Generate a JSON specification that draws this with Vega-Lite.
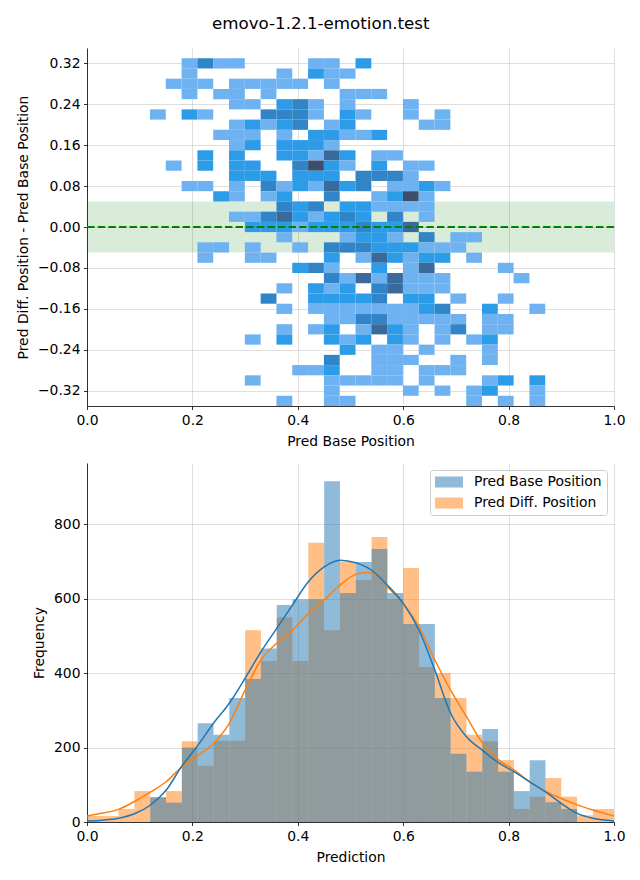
{
  "$schema": "https://vega.github.io/schema/vega-lite/v6.json",
  "background": "white",
  "padding": {"left": 16, "top": 16, "right": 5, "bottom": 5},
  "spacing": 14,
  "resolve": {"scale": {"fill": "independent", "color": "independent", "stroke": "independent"}, "legend": {"fill": "independent", "color": "independent"}},
  "title": {"text": "emovo-1.2.1-emotion.test", "font": "DejaVu Sans", "fontSize": 16.7, "fontWeight": "normal", "color": "black", "anchor": "middle", "offset": 15},
  "config": {
    "font": "DejaVu Sans",
    "view": {"stroke": null},
    "axis": {"zindex": 1, "grid": true, "gridColor": "#b0b0b0", "gridOpacity": 0.5, "gridWidth": 0.8, "domainColor": "black", "domainWidth": 0.8, "tickColor": "black", "tickWidth": 0.8, "tickSize": 3.5, "labelPadding": 3.5, "labelFont": "DejaVu Sans", "labelFontSize": 13.9, "labelColor": "black", "labelFlush": false, "labelOverlap": false, "titleFont": "DejaVu Sans", "titleFontSize": 13.9, "titleFontWeight": "normal", "titleColor": "black", "titlePadding": 8},
    "axisY": {"titlePadding": 7}
  },
  "datasets": {
    "cells": [
      {"x":0.1945,"y":0.32,"n":1},{"x":0.2245,"y":0.32,"n":3},{"x":0.2545,"y":0.32,"n":1},{"x":0.2845,"y":0.32,"n":1},{"x":0.4345,"y":0.32,"n":1},{"x":0.4645,"y":0.32,"n":1},{"x":0.5245,"y":0.32,"n":2},
      {"x":0.1945,"y":0.30,"n":1},{"x":0.3745,"y":0.30,"n":1},{"x":0.4345,"y":0.30,"n":2},{"x":0.4645,"y":0.30,"n":1},{"x":0.4945,"y":0.30,"n":1},
      {"x":0.1645,"y":0.28,"n":1},{"x":0.1945,"y":0.28,"n":1},{"x":0.2245,"y":0.28,"n":1},{"x":0.2845,"y":0.28,"n":1},{"x":0.3145,"y":0.28,"n":1},{"x":0.3445,"y":0.28,"n":1},{"x":0.3745,"y":0.28,"n":1},{"x":0.4045,"y":0.28,"n":1},{"x":0.4645,"y":0.28,"n":1},
      {"x":0.1945,"y":0.26,"n":1},{"x":0.2545,"y":0.26,"n":1},{"x":0.2845,"y":0.26,"n":1},{"x":0.3445,"y":0.26,"n":1},{"x":0.4945,"y":0.26,"n":1},{"x":0.5245,"y":0.26,"n":1},{"x":0.5545,"y":0.26,"n":1},
      {"x":0.2845,"y":0.24,"n":1},{"x":0.3145,"y":0.24,"n":1},{"x":0.3745,"y":0.24,"n":2},{"x":0.4045,"y":0.24,"n":3},{"x":0.4345,"y":0.24,"n":1},{"x":0.4945,"y":0.24,"n":1},{"x":0.6145,"y":0.24,"n":1},
      {"x":0.1345,"y":0.22,"n":1},{"x":0.1945,"y":0.22,"n":2},{"x":0.2245,"y":0.22,"n":1},{"x":0.3445,"y":0.22,"n":3},{"x":0.3745,"y":0.22,"n":3},{"x":0.4045,"y":0.22,"n":3},{"x":0.4345,"y":0.22,"n":1},{"x":0.4945,"y":0.22,"n":2},{"x":0.5245,"y":0.22,"n":1},{"x":0.6145,"y":0.22,"n":1},{"x":0.6745,"y":0.22,"n":1},
      {"x":0.2845,"y":0.20,"n":1},{"x":0.3145,"y":0.20,"n":2},{"x":0.3445,"y":0.20,"n":1},{"x":0.3745,"y":0.20,"n":2},{"x":0.4045,"y":0.20,"n":3},{"x":0.4645,"y":0.20,"n":1},{"x":0.4945,"y":0.20,"n":2},{"x":0.6445,"y":0.20,"n":1},{"x":0.6745,"y":0.20,"n":1},
      {"x":0.2545,"y":0.18,"n":1},{"x":0.2845,"y":0.18,"n":1},{"x":0.3145,"y":0.18,"n":1},{"x":0.3745,"y":0.18,"n":1},{"x":0.4345,"y":0.18,"n":2},{"x":0.4645,"y":0.18,"n":2},{"x":0.4945,"y":0.18,"n":1},{"x":0.5245,"y":0.18,"n":1},{"x":0.5545,"y":0.18,"n":2},
      {"x":0.2845,"y":0.16,"n":1},{"x":0.3145,"y":0.16,"n":2},{"x":0.3745,"y":0.16,"n":2},{"x":0.4045,"y":0.16,"n":2},{"x":0.4345,"y":0.16,"n":2},{"x":0.4645,"y":0.16,"n":1},
      {"x":0.2245,"y":0.14,"n":2},{"x":0.2845,"y":0.14,"n":2},{"x":0.3745,"y":0.14,"n":2},{"x":0.4045,"y":0.14,"n":2},{"x":0.4345,"y":0.14,"n":1},{"x":0.4645,"y":0.14,"n":4},{"x":0.4945,"y":0.14,"n":2},{"x":0.5545,"y":0.14,"n":1},{"x":0.5845,"y":0.14,"n":1},
      {"x":0.1645,"y":0.12,"n":1},{"x":0.2245,"y":0.12,"n":2},{"x":0.2845,"y":0.12,"n":2},{"x":0.3145,"y":0.12,"n":2},{"x":0.4045,"y":0.12,"n":3},{"x":0.4345,"y":0.12,"n":5},{"x":0.4645,"y":0.12,"n":2},{"x":0.4945,"y":0.12,"n":1},{"x":0.5545,"y":0.12,"n":2},{"x":0.6145,"y":0.12,"n":1},{"x":0.6445,"y":0.12,"n":1},
      {"x":0.2845,"y":0.10,"n":2},{"x":0.3145,"y":0.10,"n":2},{"x":0.3445,"y":0.10,"n":2},{"x":0.4045,"y":0.10,"n":2},{"x":0.4345,"y":0.10,"n":2},{"x":0.4645,"y":0.10,"n":2},{"x":0.5245,"y":0.10,"n":3},{"x":0.5545,"y":0.10,"n":3},{"x":0.5845,"y":0.10,"n":3},{"x":0.6145,"y":0.10,"n":1},
      {"x":0.1945,"y":0.08,"n":1},{"x":0.2245,"y":0.08,"n":1},{"x":0.2845,"y":0.08,"n":1},{"x":0.3445,"y":0.08,"n":3},{"x":0.3745,"y":0.08,"n":1},{"x":0.4045,"y":0.08,"n":2},{"x":0.4345,"y":0.08,"n":1},{"x":0.4645,"y":0.08,"n":4},{"x":0.4945,"y":0.08,"n":2},{"x":0.5245,"y":0.08,"n":3},{"x":0.5845,"y":0.08,"n":1},{"x":0.6145,"y":0.08,"n":1},{"x":0.6445,"y":0.08,"n":2},{"x":0.6745,"y":0.08,"n":1},
      {"x":0.2545,"y":0.06,"n":2},{"x":0.2845,"y":0.06,"n":1},{"x":0.3445,"y":0.06,"n":1},{"x":0.3745,"y":0.06,"n":2},{"x":0.4645,"y":0.06,"n":3},{"x":0.5545,"y":0.06,"n":1},{"x":0.5845,"y":0.06,"n":2},{"x":0.6145,"y":0.06,"n":5},{"x":0.6445,"y":0.06,"n":1},
      {"x":0.3745,"y":0.04,"n":3},{"x":0.4045,"y":0.04,"n":2},{"x":0.4345,"y":0.04,"n":3},{"x":0.4945,"y":0.04,"n":2},{"x":0.5245,"y":0.04,"n":2},{"x":0.5545,"y":0.04,"n":1},{"x":0.5845,"y":0.04,"n":1},{"x":0.6145,"y":0.04,"n":1},{"x":0.6445,"y":0.04,"n":1},
      {"x":0.2845,"y":0.02,"n":1},{"x":0.3145,"y":0.02,"n":1},{"x":0.3445,"y":0.02,"n":3},{"x":0.3745,"y":0.02,"n":4},{"x":0.4045,"y":0.02,"n":2},{"x":0.4345,"y":0.02,"n":1},{"x":0.4645,"y":0.02,"n":2},{"x":0.4945,"y":0.02,"n":3},{"x":0.5245,"y":0.02,"n":2},{"x":0.5845,"y":0.02,"n":3},{"x":0.6445,"y":0.02,"n":1},
      {"x":0.3145,"y":0,"n":2},{"x":0.3445,"y":0,"n":2},{"x":0.3745,"y":0,"n":2},{"x":0.4045,"y":0,"n":1},{"x":0.4345,"y":0,"n":2},{"x":0.4645,"y":0,"n":2},{"x":0.4945,"y":0,"n":2},{"x":0.5245,"y":0,"n":3},{"x":0.5545,"y":0,"n":2},{"x":0.5845,"y":0,"n":2},{"x":0.6145,"y":0,"n":4},
      {"x":0.3745,"y":-0.02,"n":1},{"x":0.4945,"y":-0.02,"n":1},{"x":0.5245,"y":-0.02,"n":2},{"x":0.5545,"y":-0.02,"n":2},{"x":0.5845,"y":-0.02,"n":1},{"x":0.6445,"y":-0.02,"n":3},{"x":0.7045,"y":-0.02,"n":1},{"x":0.7345,"y":-0.02,"n":1},
      {"x":0.2245,"y":-0.04,"n":1},{"x":0.2545,"y":-0.04,"n":1},{"x":0.3145,"y":-0.04,"n":1},{"x":0.4045,"y":-0.04,"n":1},{"x":0.4645,"y":-0.04,"n":3},{"x":0.4945,"y":-0.04,"n":3},{"x":0.5245,"y":-0.04,"n":3},{"x":0.5545,"y":-0.04,"n":2},{"x":0.5845,"y":-0.04,"n":2},{"x":0.6145,"y":-0.04,"n":2},{"x":0.6445,"y":-0.04,"n":1},{"x":0.6745,"y":-0.04,"n":1},{"x":0.7045,"y":-0.04,"n":1},
      {"x":0.2245,"y":-0.06,"n":1},{"x":0.3145,"y":-0.06,"n":1},{"x":0.3445,"y":-0.06,"n":1},{"x":0.4645,"y":-0.06,"n":2},{"x":0.5245,"y":-0.06,"n":1},{"x":0.5545,"y":-0.06,"n":4},{"x":0.5845,"y":-0.06,"n":2},{"x":0.6145,"y":-0.06,"n":1},{"x":0.6445,"y":-0.06,"n":2},{"x":0.6745,"y":-0.06,"n":2},{"x":0.7345,"y":-0.06,"n":1},
      {"x":0.4045,"y":-0.08,"n":2},{"x":0.4345,"y":-0.08,"n":3},{"x":0.4645,"y":-0.08,"n":1},{"x":0.5545,"y":-0.08,"n":2},{"x":0.6145,"y":-0.08,"n":1},{"x":0.6445,"y":-0.08,"n":4},{"x":0.7945,"y":-0.08,"n":1},
      {"x":0.4645,"y":-0.10,"n":3},{"x":0.4945,"y":-0.10,"n":1},{"x":0.5245,"y":-0.10,"n":4},{"x":0.5545,"y":-0.10,"n":1},{"x":0.5845,"y":-0.10,"n":4},{"x":0.6145,"y":-0.10,"n":1},{"x":0.6445,"y":-0.10,"n":1},{"x":0.6745,"y":-0.10,"n":1},{"x":0.8245,"y":-0.10,"n":1},
      {"x":0.3745,"y":-0.12,"n":1},{"x":0.4345,"y":-0.12,"n":2},{"x":0.4645,"y":-0.12,"n":1},{"x":0.4945,"y":-0.12,"n":2},{"x":0.5545,"y":-0.12,"n":3},{"x":0.5845,"y":-0.12,"n":4},{"x":0.6145,"y":-0.12,"n":1},{"x":0.6445,"y":-0.12,"n":1},{"x":0.6745,"y":-0.12,"n":1},
      {"x":0.3445,"y":-0.14,"n":3},{"x":0.4345,"y":-0.14,"n":2},{"x":0.4645,"y":-0.14,"n":2},{"x":0.4945,"y":-0.14,"n":2},{"x":0.5245,"y":-0.14,"n":2},{"x":0.5545,"y":-0.14,"n":3},{"x":0.6145,"y":-0.14,"n":2},{"x":0.6445,"y":-0.14,"n":2},{"x":0.7045,"y":-0.14,"n":1},{"x":0.7945,"y":-0.14,"n":1},
      {"x":0.3745,"y":-0.16,"n":1},{"x":0.4345,"y":-0.16,"n":1},{"x":0.4645,"y":-0.16,"n":1},{"x":0.4945,"y":-0.16,"n":1},{"x":0.5245,"y":-0.16,"n":1},{"x":0.5545,"y":-0.16,"n":1},{"x":0.5845,"y":-0.16,"n":1},{"x":0.6145,"y":-0.16,"n":1},{"x":0.6445,"y":-0.16,"n":2},{"x":0.6745,"y":-0.16,"n":3},{"x":0.7645,"y":-0.16,"n":2},{"x":0.8545,"y":-0.16,"n":1},
      {"x":0.4645,"y":-0.18,"n":1},{"x":0.4945,"y":-0.18,"n":1},{"x":0.5245,"y":-0.18,"n":3},{"x":0.5545,"y":-0.18,"n":3},{"x":0.5845,"y":-0.18,"n":1},{"x":0.6145,"y":-0.18,"n":1},{"x":0.6445,"y":-0.18,"n":1},{"x":0.6745,"y":-0.18,"n":1},{"x":0.7045,"y":-0.18,"n":1},{"x":0.7645,"y":-0.18,"n":1},{"x":0.7945,"y":-0.18,"n":1},
      {"x":0.3745,"y":-0.20,"n":1},{"x":0.4345,"y":-0.20,"n":1},{"x":0.4645,"y":-0.20,"n":2},{"x":0.5245,"y":-0.20,"n":1},{"x":0.5545,"y":-0.20,"n":4},{"x":0.5845,"y":-0.20,"n":2},{"x":0.6145,"y":-0.20,"n":1},{"x":0.6745,"y":-0.20,"n":1},{"x":0.7045,"y":-0.20,"n":3},{"x":0.7645,"y":-0.20,"n":1},{"x":0.7945,"y":-0.20,"n":1},
      {"x":0.3145,"y":-0.22,"n":1},{"x":0.3745,"y":-0.22,"n":2},{"x":0.4645,"y":-0.22,"n":2},{"x":0.4945,"y":-0.22,"n":1},{"x":0.5245,"y":-0.22,"n":2},{"x":0.5845,"y":-0.22,"n":2},{"x":0.6145,"y":-0.22,"n":1},{"x":0.6745,"y":-0.22,"n":1},{"x":0.7345,"y":-0.22,"n":1},{"x":0.7645,"y":-0.22,"n":2},
      {"x":0.4945,"y":-0.24,"n":2},{"x":0.5545,"y":-0.24,"n":1},{"x":0.5845,"y":-0.24,"n":1},{"x":0.6445,"y":-0.24,"n":1},{"x":0.7645,"y":-0.24,"n":1},
      {"x":0.4645,"y":-0.26,"n":3},{"x":0.5545,"y":-0.26,"n":1},{"x":0.5845,"y":-0.26,"n":1},{"x":0.6145,"y":-0.26,"n":1},{"x":0.7045,"y":-0.26,"n":1},{"x":0.7645,"y":-0.26,"n":1},
      {"x":0.4045,"y":-0.28,"n":1},{"x":0.4345,"y":-0.28,"n":1},{"x":0.4645,"y":-0.28,"n":2},{"x":0.5545,"y":-0.28,"n":1},{"x":0.5845,"y":-0.28,"n":1},{"x":0.6445,"y":-0.28,"n":1},{"x":0.6745,"y":-0.28,"n":1},{"x":0.7045,"y":-0.28,"n":1},
      {"x":0.3145,"y":-0.30,"n":1},{"x":0.4645,"y":-0.30,"n":1},{"x":0.4945,"y":-0.30,"n":1},{"x":0.5245,"y":-0.30,"n":1},{"x":0.5545,"y":-0.30,"n":1},{"x":0.5845,"y":-0.30,"n":1},{"x":0.6445,"y":-0.30,"n":1},{"x":0.7645,"y":-0.30,"n":1},{"x":0.7945,"y":-0.30,"n":2},{"x":0.8545,"y":-0.30,"n":2},
      {"x":0.4645,"y":-0.32,"n":1},{"x":0.6145,"y":-0.32,"n":1},{"x":0.6745,"y":-0.32,"n":1},{"x":0.7345,"y":-0.32,"n":1},{"x":0.7645,"y":-0.32,"n":2},{"x":0.8545,"y":-0.32,"n":1},
      {"x":0.3745,"y":-0.34,"n":1},{"x":0.4645,"y":-0.34,"n":1},{"x":0.4945,"y":-0.34,"n":1},{"x":0.7345,"y":-0.34,"n":1},{"x":0.7945,"y":-0.34,"n":1},{"x":0.8545,"y":-0.34,"n":1}
    ],
    "bars": [
      {"s":"Pred Diff. Position","x":0.015,"c":16},{"s":"Pred Diff. Position","x":0.045,"c":16},{"s":"Pred Diff. Position","x":0.075,"c":35},{"s":"Pred Diff. Position","x":0.105,"c":83},{"s":"Pred Diff. Position","x":0.135,"c":65},{"s":"Pred Diff. Position","x":0.165,"c":83},{"s":"Pred Diff. Position","x":0.195,"c":217},{"s":"Pred Diff. Position","x":0.225,"c":151},{"s":"Pred Diff. Position","x":0.255,"c":218},{"s":"Pred Diff. Position","x":0.285,"c":218},{"s":"Pred Diff. Position","x":0.315,"c":515},{"s":"Pred Diff. Position","x":0.345,"c":432},{"s":"Pred Diff. Position","x":0.375,"c":550},{"s":"Pred Diff. Position","x":0.405,"c":432},{"s":"Pred Diff. Position","x":0.435,"c":750},{"s":"Pred Diff. Position","x":0.465,"c":515},{"s":"Pred Diff. Position","x":0.495,"c":698},{"s":"Pred Diff. Position","x":0.525,"c":650},{"s":"Pred Diff. Position","x":0.555,"c":765},{"s":"Pred Diff. Position","x":0.585,"c":599},{"s":"Pred Diff. Position","x":0.615,"c":682},{"s":"Pred Diff. Position","x":0.645,"c":416},{"s":"Pred Diff. Position","x":0.675,"c":400},{"s":"Pred Diff. Position","x":0.705,"c":333},{"s":"Pred Diff. Position","x":0.735,"c":234},{"s":"Pred Diff. Position","x":0.765,"c":217},{"s":"Pred Diff. Position","x":0.795,"c":166},{"s":"Pred Diff. Position","x":0.825,"c":35},{"s":"Pred Diff. Position","x":0.855,"c":68},{"s":"Pred Diff. Position","x":0.885,"c":118},{"s":"Pred Diff. Position","x":0.915,"c":68},{"s":"Pred Diff. Position","x":0.945,"c":18},{"s":"Pred Diff. Position","x":0.975,"c":35},{"s":"Pred Diff. Position","x":1.005,"c":35},
      {"s":"Pred Base Position","x":0.135,"c":67},{"s":"Pred Base Position","x":0.165,"c":52},{"s":"Pred Base Position","x":0.195,"c":200},{"s":"Pred Base Position","x":0.225,"c":265},{"s":"Pred Base Position","x":0.255,"c":234},{"s":"Pred Base Position","x":0.285,"c":333},{"s":"Pred Base Position","x":0.315,"c":384},{"s":"Pred Base Position","x":0.345,"c":466},{"s":"Pred Base Position","x":0.375,"c":583},{"s":"Pred Base Position","x":0.405,"c":598},{"s":"Pred Base Position","x":0.435,"c":598},{"s":"Pred Base Position","x":0.465,"c":915},{"s":"Pred Base Position","x":0.495,"c":615},{"s":"Pred Base Position","x":0.525,"c":698},{"s":"Pred Base Position","x":0.555,"c":733},{"s":"Pred Base Position","x":0.585,"c":615},{"s":"Pred Base Position","x":0.615,"c":532},{"s":"Pred Base Position","x":0.645,"c":532},{"s":"Pred Base Position","x":0.675,"c":333},{"s":"Pred Base Position","x":0.705,"c":183},{"s":"Pred Base Position","x":0.735,"c":135},{"s":"Pred Base Position","x":0.765,"c":250},{"s":"Pred Base Position","x":0.795,"c":135},{"s":"Pred Base Position","x":0.825,"c":83},{"s":"Pred Base Position","x":0.855,"c":166},{"s":"Pred Base Position","x":0.885,"c":53},{"s":"Pred Base Position","x":0.915,"c":35}
    ],
    "kde": [
      {"s":"Pred Diff. Position","x":0,"d":16},{"s":"Pred Diff. Position","x":0.03,"d":24},{"s":"Pred Diff. Position","x":0.06,"d":34},{"s":"Pred Diff. Position","x":0.09,"d":55},{"s":"Pred Diff. Position","x":0.12,"d":80},{"s":"Pred Diff. Position","x":0.15,"d":108},{"s":"Pred Diff. Position","x":0.18,"d":148},{"s":"Pred Diff. Position","x":0.21,"d":178},{"s":"Pred Diff. Position","x":0.24,"d":211},{"s":"Pred Diff. Position","x":0.27,"d":265},{"s":"Pred Diff. Position","x":0.30,"d":354},{"s":"Pred Diff. Position","x":0.33,"d":435},{"s":"Pred Diff. Position","x":0.36,"d":480},{"s":"Pred Diff. Position","x":0.39,"d":515},{"s":"Pred Diff. Position","x":0.42,"d":560},{"s":"Pred Diff. Position","x":0.45,"d":596},{"s":"Pred Diff. Position","x":0.48,"d":636},{"s":"Pred Diff. Position","x":0.51,"d":665},{"s":"Pred Diff. Position","x":0.53,"d":670},{"s":"Pred Diff. Position","x":0.55,"d":664},{"s":"Pred Diff. Position","x":0.57,"d":632},{"s":"Pred Diff. Position","x":0.60,"d":587},{"s":"Pred Diff. Position","x":0.63,"d":524},{"s":"Pred Diff. Position","x":0.66,"d":435},{"s":"Pred Diff. Position","x":0.69,"d":354},{"s":"Pred Diff. Position","x":0.72,"d":283},{"s":"Pred Diff. Position","x":0.75,"d":213},{"s":"Pred Diff. Position","x":0.78,"d":168},{"s":"Pred Diff. Position","x":0.81,"d":140},{"s":"Pred Diff. Position","x":0.84,"d":108},{"s":"Pred Diff. Position","x":0.87,"d":83},{"s":"Pred Diff. Position","x":0.90,"d":63},{"s":"Pred Diff. Position","x":0.93,"d":46},{"s":"Pred Diff. Position","x":0.96,"d":32},{"s":"Pred Diff. Position","x":1.0,"d":16},
      {"s":"Pred Base Position","x":0,"d":3},{"s":"Pred Base Position","x":0.03,"d":5},{"s":"Pred Base Position","x":0.06,"d":10},{"s":"Pred Base Position","x":0.09,"d":22},{"s":"Pred Base Position","x":0.12,"d":45},{"s":"Pred Base Position","x":0.15,"d":85},{"s":"Pred Base Position","x":0.18,"d":150},{"s":"Pred Base Position","x":0.21,"d":205},{"s":"Pred Base Position","x":0.24,"d":265},{"s":"Pred Base Position","x":0.27,"d":319},{"s":"Pred Base Position","x":0.30,"d":386},{"s":"Pred Base Position","x":0.33,"d":457},{"s":"Pred Base Position","x":0.36,"d":520},{"s":"Pred Base Position","x":0.39,"d":583},{"s":"Pred Base Position","x":0.42,"d":645},{"s":"Pred Base Position","x":0.45,"d":685},{"s":"Pred Base Position","x":0.48,"d":703},{"s":"Pred Base Position","x":0.51,"d":696},{"s":"Pred Base Position","x":0.54,"d":676},{"s":"Pred Base Position","x":0.57,"d":636},{"s":"Pred Base Position","x":0.60,"d":587},{"s":"Pred Base Position","x":0.63,"d":515},{"s":"Pred Base Position","x":0.66,"d":408},{"s":"Pred Base Position","x":0.69,"d":292},{"s":"Pred Base Position","x":0.72,"d":229},{"s":"Pred Base Position","x":0.75,"d":193},{"s":"Pred Base Position","x":0.78,"d":160},{"s":"Pred Base Position","x":0.81,"d":135},{"s":"Pred Base Position","x":0.84,"d":108},{"s":"Pred Base Position","x":0.87,"d":81},{"s":"Pred Base Position","x":0.90,"d":50},{"s":"Pred Base Position","x":0.93,"d":23},{"s":"Pred Base Position","x":0.96,"d":10},{"s":"Pred Base Position","x":1.0,"d":3}
    ]
  },
  "vconcat": [
    {
      "width": 527,
      "height": 358,
      "layer": [
        {
          "data": {"values": [{"lo": -0.05, "hi": 0.05}]},
          "mark": {"type": "rect", "color": "green", "opacity": 0.15},
          "encoding": {
            "y": {"field": "lo", "type": "quantitative", "title": "Pred Diff. Position - Pred Base Position"},
            "y2": {"field": "hi"}
          }
        },
        {
          "data": {"name": "cells"},
          "transform": [
            {"bin": {"extent": [0.1195, 0.8695], "step": 0.03, "nice": false}, "field": "x", "as": ["x0", "x1"]},
            {"bin": {"extent": [-0.35, 0.35], "step": 0.02, "nice": false}, "field": "y", "as": ["y0", "y1"]}
          ],
          "mark": {"type": "rect"},
          "encoding": {
            "x": {"field": "x0", "type": "quantitative", "title": "Pred Base Position", "scale": {"domain": [0, 1], "nice": false, "zero": false}, "axis": {"values": [0, 0.2, 0.4, 0.6, 0.8, 1.0], "format": ".1f"}},
            "x2": {"field": "x1"},
            "y": {"field": "y0", "type": "quantitative", "title": "Pred Diff. Position - Pred Base Position", "scale": {"domain": [-0.35, 0.35], "nice": false, "zero": false}, "axis": {"values": [-0.32, -0.24, -0.16, -0.08, 0, 0.08, 0.16, 0.24, 0.32], "format": ".2f"}},
            "y2": {"field": "y1"},
            "fill": {"field": "n", "type": "ordinal", "scale": {"domain": [1, 2, 3, 4, 5], "range": ["#6eb2f2", "#2c9be8", "#3185c6", "#3a699b", "#3d4e6a"]}, "legend": null}
          }
        },
        {
          "data": {"values": [{"v": 0}]},
          "mark": {"type": "rule", "color": "green", "strokeDash": [7.4, 3.2], "strokeWidth": 2},
          "encoding": {
            "y": {"field": "v", "type": "quantitative", "title": "Pred Diff. Position - Pred Base Position"}
          }
        }
      ]
    },
    {
      "width": 527,
      "height": 359,
      "layer": [
        {
          "data": {"name": "bars"},
          "transform": [
            {"bin": {"extent": [0, 1.02], "step": 0.03, "nice": false}, "field": "x", "as": ["x0", "x1"]}
          ],
          "mark": {"type": "rect", "opacity": 0.5, "clip": true},
          "encoding": {
            "x": {"field": "x0", "type": "quantitative", "title": "Prediction", "scale": {"domain": [0, 1], "nice": false, "zero": false}, "axis": {"values": [0, 0.2, 0.4, 0.6, 0.8, 1.0], "format": ".1f"}},
            "x2": {"field": "x1"},
            "y": {"field": "c", "type": "quantitative", "title": "Frequency", "scale": {"domain": [0, 964], "nice": false}, "axis": {"values": [0, 200, 400, 600, 800], "format": "d"}},
            "y2": {"datum": 0},
            "color": {
              "field": "s", "type": "nominal",
              "scale": {"domain": ["Pred Base Position", "Pred Diff. Position"], "range": ["#1f77b4", "#ff7f0e"]},
              "legend": {"orient": "top-right", "offset": 7, "title": null, "symbolType": "M-1,-0.786L3,-0.786L3,0.786L-1,0.786Z", "symbolSize": 196, "symbolOpacity": 0.5, "symbolStrokeWidth": 0, "labelFont": "DejaVu Sans", "labelFontSize": 13.9, "labelColor": "black", "labelOffset": 25, "rowPadding": 7, "padding": 5, "strokeColor": "#cccccc", "fillColor": "rgba(255,255,255,0.8)", "cornerRadius": 3}
            }
          }
        },
        {
          "data": {"name": "kde"},
          "mark": {"type": "line", "strokeWidth": 1.5, "interpolate": "monotone", "clip": true},
          "encoding": {
            "x": {"field": "x", "type": "quantitative", "title": "Prediction"},
            "y": {"field": "d", "type": "quantitative", "title": "Frequency"},
            "stroke": {"field": "s", "type": "nominal", "scale": {"domain": ["Pred Base Position", "Pred Diff. Position"], "range": ["#1f77b4", "#ff7f0e"]}, "legend": null},
            "detail": {"field": "s"}
          }
        }
      ]
    }
  ]
}
